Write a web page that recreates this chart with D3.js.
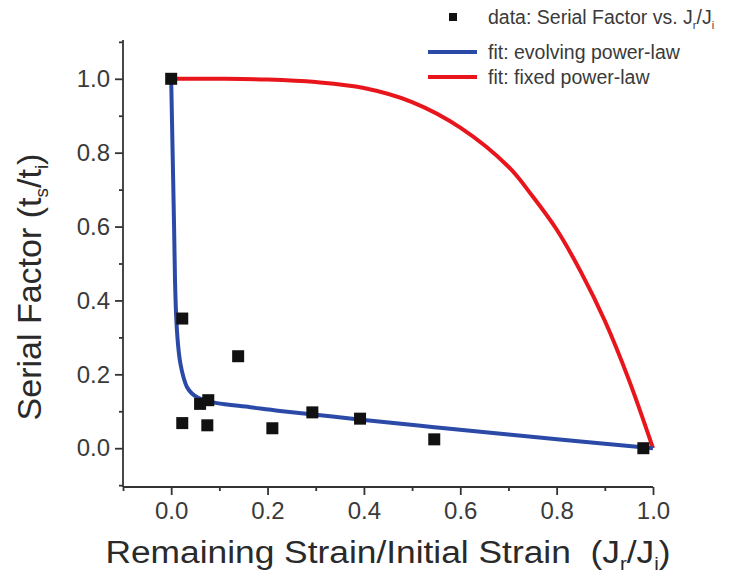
<!DOCTYPE html>
<html>
<head>
<meta charset="utf-8">
<script src="https://cdn.jsdelivr.net/npm/d3@7"></script>
<style>
  body { margin: 0; background: #fff; }
  svg text { font-family: "Liberation Sans", Arial, sans-serif; white-space: pre; }
</style>
</head>
<body>
<svg id="chart" width="750" height="583"></svg>
<script>
// measured points: serial factor vs remaining strain ratio
const dataX = [0.0, 0.023, 0.023, 0.06, 0.077, 0.075, 0.139, 0.21, 0.293, 0.392, 0.546, 0.98];
const dataY = [1.0, 0.351, 0.068, 0.12, 0.13, 0.062, 0.249, 0.054, 0.097, 0.08, 0.024, 0.0];

// evolving power-law fit
const evolvX = [0.0, 0.003, 0.006, 0.008, 0.011, 0.015, 0.019, 0.026, 0.033, 0.043, 0.054, 0.075, 0.095, 0.164, 0.226, 0.39, 0.546, 0.7, 0.85, 1.0];
const evolvY = [1.0, 0.8, 0.6, 0.45, 0.34, 0.27, 0.23, 0.19, 0.165, 0.148, 0.138, 0.128, 0.122, 0.111, 0.101, 0.078, 0.057, 0.037, 0.018, 0.0];

// fixed power-law fit
const fixedX = [0.0, 0.1, 0.2, 0.3, 0.4, 0.5, 0.6, 0.7, 0.75, 0.8, 0.85, 0.9, 0.95, 1.0];
const fixedY = [1.0, 1.0, 0.998, 0.991, 0.975, 0.937, 0.868, 0.762, 0.682, 0.592, 0.478, 0.345, 0.185, 0.0];

const majorTicks = [0.0, 0.2, 0.4, 0.6, 0.8, 1.0];
const minorTicksX = [-0.1, 0.1, 0.3, 0.5, 0.7, 0.9];
const minorTicksY = [-0.1, 0.1, 0.3, 0.5, 0.7, 0.9, 1.1];

const svg = d3.select("#chart");
const axisColor = "#333";
const blue = "#2b4aa8", red = "#e8161c";

const x = d3.scaleLinear().domain([-0.1, 1.0]).range([123, 653]);
const y = d3.scaleLinear().domain([-0.105, 1.105]).range([487, 40]);

// axes
const xAxis = svg.append("g").attr("transform", "translate(0,487)")
    .call(d3.axisBottom(x).tickValues(majorTicks).tickFormat(d3.format(".1f")).tickSize(8).tickPadding(7));
svg.append("g").attr("transform", "translate(0,487)")
    .call(d3.axisBottom(x).tickValues(minorTicksX).tickFormat("").tickSize(4))
    .select(".domain").remove();

const yAxis = svg.append("g").attr("transform", "translate(123,0)")
    .call(d3.axisLeft(y).tickValues(majorTicks).tickFormat(d3.format(".1f")).tickSize(8).tickPadding(5));
svg.append("g").attr("transform", "translate(123,0)")
    .call(d3.axisLeft(y).tickValues(minorTicksY).tickFormat("").tickSize(4))
    .select(".domain").remove();

svg.selectAll(".domain, .tick line").attr("stroke", axisColor).attr("stroke-width", 1.8);
xAxis.selectAll(".domain").attr("d", "M123,0H653");
yAxis.selectAll(".domain").attr("d", "M0,487V40");
svg.selectAll(".tick text").attr("fill", "#3a3a3a").style("font-size", "24px");

// axis titles
const xt = svg.append("text").attr("text-anchor", "middle")
    .attr("transform", "translate(388,563) scale(1.14,1)")
    .attr("fill", "#2a2a2a").style("font-size", "31px");
xt.append("tspan").text("Remaining Strain/Initial Strain  (J");
xt.append("tspan").attr("dy", 7).style("font-size", "18px").text("r");
xt.append("tspan").attr("dy", -7).text("/J");
xt.append("tspan").attr("dy", 7).style("font-size", "18px").text("i");
xt.append("tspan").attr("dy", -7).text(")");

const yt = svg.append("text").attr("transform", "translate(41,287) rotate(-90)")
    .attr("text-anchor", "middle").attr("fill", "#2a2a2a").style("font-size", "34px");
yt.append("tspan").text("Serial Factor (t");
yt.append("tspan").attr("dy", 7).style("font-size", "19px").text("s");
yt.append("tspan").attr("dy", -7).text("/t");
yt.append("tspan").attr("dy", 7).style("font-size", "19px").text("i");
yt.append("tspan").attr("dy", -7).text(")");

// fit curves
const smooth = d3.line().x(d => x(d[0])).y(d => y(d[1])).curve(d3.curveCatmullRom.alpha(0.5));

svg.append("path").datum(d3.zip(fixedX, fixedY)).attr("d", smooth)
    .attr("fill", "none").attr("stroke", red).attr("stroke-width", 4);

svg.append("path").datum(d3.zip(evolvX, evolvY)).attr("d", smooth)
    .attr("fill", "none").attr("stroke", blue).attr("stroke-width", 4);

// data squares
const sq = 12;
svg.append("g").selectAll("rect").data(d3.zip(dataX, dataY)).enter().append("rect")
    .attr("x", d => x(d[0]) - sq / 2).attr("y", d => y(d[1]) - sq / 2)
    .attr("width", sq).attr("height", sq).attr("fill", "#111");

// legend
const lg = svg.append("g");
const fs = "19.5px";
lg.append("rect").attr("x", 449).attr("y", 13).attr("width", 8).attr("height", 8).attr("fill", "#111");
const l1 = lg.append("text").attr("x", 488).attr("y", 24).attr("fill", "#3a3a3a").style("font-size", fs);
l1.append("tspan").text("data: Serial Factor vs. J");
l1.append("tspan").attr("dy", 5).style("font-size", "11px").text("r");
l1.append("tspan").attr("dy", -5).text("/J");
l1.append("tspan").attr("dy", 5).style("font-size", "11px").text("i");

lg.append("line").attr("x1", 428).attr("x2", 477).attr("y1", 52).attr("y2", 52)
    .attr("stroke", blue).attr("stroke-width", 4);
lg.append("text").attr("x", 488).attr("y", 59).attr("fill", "#3a3a3a").style("font-size", fs)
    .text("fit: evolving power-law");

lg.append("line").attr("x1", 428).attr("x2", 477).attr("y1", 77).attr("y2", 77)
    .attr("stroke", red).attr("stroke-width", 4);
lg.append("text").attr("x", 488).attr("y", 84).attr("fill", "#3a3a3a").style("font-size", fs)
    .text("fit: fixed power-law");
</script>
</body>
</html>
